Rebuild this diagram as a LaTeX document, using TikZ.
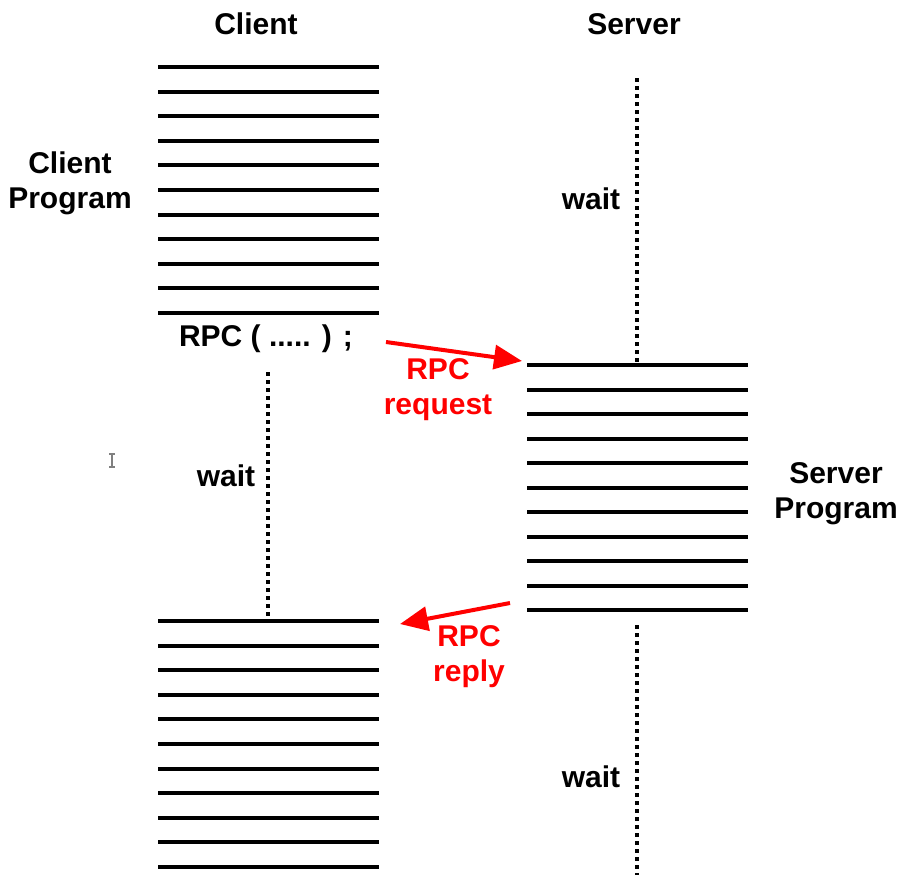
\documentclass[tikz,border=0pt]{standalone}
\usepackage{fontspec}
\setmainfont{Liberation Sans}
\usetikzlibrary{calc}
\usetikzlibrary{positioning}
\usetikzlibrary{arrows.meta}

\tikzset{
    lbl/.style={font=\bfseries\fontsize{15}{17.5}\selectfont, align=center, inner sep=0pt},
    msglbl/.style={lbl, text=red},
    codeline/.style={line width=2pt},
    waitline/.style={line width=2pt, dash pattern=on 2pt off 2pt},
    msg/.style={red, line width=2pt, -{Triangle[length=14pt,width=12pt]}}
}

\begin{document}
\begin{tikzpicture}[x=0.5pt, y=-0.5pt]
            \useasboundingbox (0,0) rectangle (899,875);

            % titles
            \node[lbl] (client) at (256,24) {Client};
            \node[lbl] (server) at (634,24) {Server};
            \node[lbl] (clientprog) at (70,183) {Client\\Program};
            \node[lbl] (serverprog) at (836,494) {Server\\Program};

            % program blocks
            \foreach \i in {0,...,10} {
                \draw[codeline] (158,{67+24.6*\i}) -- (379,{67+24.6*\i});
                \draw[codeline] (527,{365+24.5*\i}) -- (748,{365+24.5*\i});
                \draw[codeline] (158,{621+24.6*\i}) -- (379,{621+24.6*\i});
            }

            \node[lbl] (call) at (266,339) {RPC ( ..... ) ;};

            % waiting
            \coordinate (sw1a) at (637,78);
            \coordinate (sw1b) at (637,362);
            \coordinate (cwa) at (268,372);
            \coordinate (cwb) at (268,617);
            \coordinate (sw2a) at (637,625);
            \coordinate (sw2b) at (637,875);
            \draw[waitline] (sw1a) -- (sw1b);
            \draw[waitline] (cwa) -- (cwb);
            \draw[waitline] (sw2a) -- (sw2b);

            \node[lbl] (wait1) at (591,199) {wait};
            \node[lbl] (wait2) at (226,476) {wait};
            \node[lbl] (wait3) at (591,777) {wait};

            % messages
            \coordinate (reqA) at (386,342);
            \coordinate (reqB) at (522,361);
            \coordinate (repA) at (510,603);
            \coordinate (repB) at (400,624);
            \draw[msg] (reqA) -- (reqB);
            \draw[msg] (repA) -- (repB);
            \node[msglbl] (request) at (438,390) {RPC\\request};
            \node[msglbl] (reply) at (469,657) {RPC\\reply};

            % cursor
            \draw[gray, line width=0.6pt] (112,454) -- (112,467);
            \draw[gray, line width=0.6pt] (109,454) -- (115,454);
            \draw[gray, line width=0.6pt] (109,467) -- (115,467);
        \end{tikzpicture}
\end{document}
